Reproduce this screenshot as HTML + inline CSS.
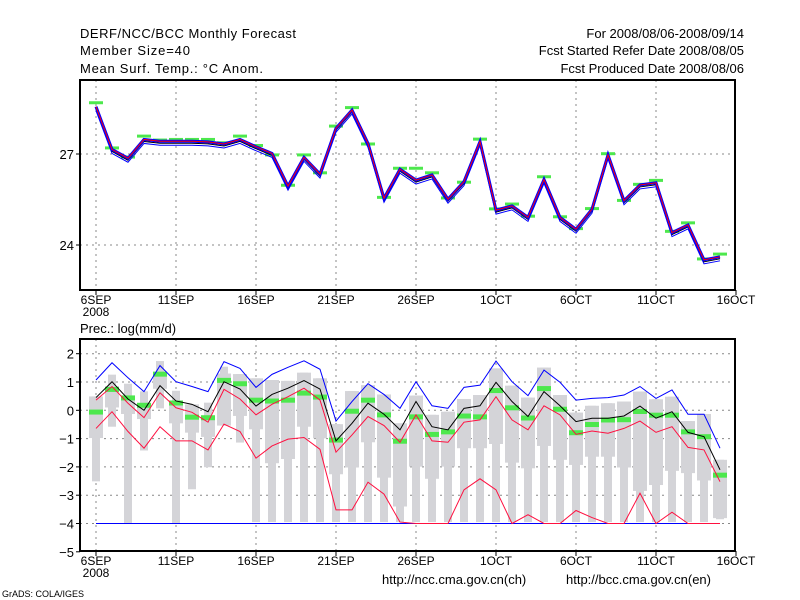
<!DOCTYPE html>
<html><head><meta charset="utf-8"><style>
html,body{margin:0;padding:0;background:#fff;}
svg{display:block;font-family:"Liberation Sans",sans-serif;}
</style></head><body>
<svg id="chart" width="800" height="600" viewBox="0 0 800 600" xmlns="http://www.w3.org/2000/svg">
<rect width="800" height="600" fill="#fff"/>
<g font-size="13" fill="#000">
<text x="80" y="38" textLength="216">DERF/NCC/BCC Monthly Forecast</text>
<text x="80" y="55" textLength="110">Member Size=40</text>
<text x="80" y="73" textLength="183">Mean Surf. Temp.: °C Anom.</text>
<text x="744" y="38" text-anchor="end">For 2008/08/06-2008/09/14</text>
<text x="744" y="55" text-anchor="end">Fcst Started Refer Date 2008/08/05</text>
<text x="744" y="73" text-anchor="end">Fcst Produced Date 2008/08/06</text>
<text x="80" y="333">Prec.: log(mm/d)</text>
<text x="382" y="584">http://ncc.cma.gov.cn(ch)</text>
<text x="566" y="584">http://bcc.cma.gov.cn(en)</text>
<text x="2" y="597" font-size="9">GrADS: COLA/IGES</text>
</g>
<g id="top"></g>
<g id="bot"></g>
</svg>
<script>
const days = [0,1,2,3,4,5,6,7,8,9,10,11,12,13,14,15,16,17,18,19,20,21,22,23,24,25,26,27,28,29,30,31,32,33,34,35,36,37,38,39];
const xTickDays = [0,5,10,15,20,25,30,35,40];
const xTickLabels = ["6SEP","11SEP","16SEP","21SEP","26SEP","1OCT","6OCT","11OCT","16OCT"];
const topYTicks = [27,24];
const tempMean = [28.56,27.15,26.86,27.48,27.42,27.42,27.42,27.40,27.33,27.48,27.24,27.02,25.94,26.89,26.34,27.85,28.45,27.35,25.54,26.50,26.14,26.31,25.51,26.09,27.41,25.15,25.29,24.91,26.16,24.91,24.52,25.18,26.97,25.46,25.98,26.05,24.41,24.66,23.51,23.61];
const tempObs = [28.69,27.2,26.9,27.59,27.46,27.48,27.48,27.48,27.37,27.59,27.28,26.97,25.97,26.97,26.38,27.92,28.53,27.33,25.57,26.53,26.53,26.38,25.55,26.07,27.49,25.19,25.35,24.95,26.25,24.93,24.54,25.2,27.01,25.47,26.0,26.13,24.45,24.73,23.54,23.7];
const botYTicks = [2,1,0,-1,-2,-3,-4,-5];
const precMax = [1.07,1.68,1.15,0.66,1.58,1.01,0.84,0.66,1.72,1.48,0.81,1.27,1.52,1.75,1.45,-0.38,0.31,0.94,0.56,0.07,1.01,0.16,0.07,0.81,0.89,1.74,1.01,0.52,1.42,0.99,0.36,0.42,0.45,0.54,0.84,0.42,0.72,-0.14,-0.14,-1.34];
const precMean = [0.45,1.01,0.40,0,0.87,0.33,0.21,-0.05,1.01,0.75,0.15,0.56,0.78,1.05,0.75,-1.08,-0.46,0.25,-0.14,-0.69,0.31,-0.58,-0.69,0.07,0.16,0.99,0.31,-0.22,0.66,0.16,-0.4,-0.28,-0.28,-0.2,0.15,-0.28,-0.05,-0.78,-0.93,-2.1];
const precUpper = [0.36,0.84,0.25,-0.26,0.62,0.09,-0.07,-0.42,0.74,0.4,-0.16,0.21,0.48,0.78,0.36,-1.48,-0.87,-0.22,-0.54,-1.13,-0.16,-1.08,-1.13,-0.42,-0.34,0.48,-0.34,-0.69,0.16,-0.16,-0.85,-0.73,-0.81,-0.64,-0.38,-0.78,-0.58,-1.31,-1.4,-2.52];
const precLower = [-0.64,-0.05,-0.75,-1.34,-0.58,-1.08,-1.08,-1.4,-0.49,-0.75,-1.69,-1.26,-1.02,-0.96,-1.38,-3.52,-3.52,-2.54,-2.96,-3.95,-4,-4,-4,-2.81,-2.42,-2.81,-4,-3.69,-4,-4,-3.54,-3.79,-4,-4,-2.93,-4,-3.6,-4,-4,-4];
const precObs = [-0.08,0.72,0.42,0.16,1.26,0.24,-0.26,-0.28,1.04,0.92,0.34,0.31,0.34,0.59,0.45,-1.07,-0.05,0.34,-0.18,-1.11,-0.25,-0.87,-0.78,-0.22,-0.25,0.68,0.07,-0.29,0.75,0.02,-0.81,-0.52,-0.36,-0.35,-0.06,-0.19,-0.19,-0.78,-0.95,-2.31];
const boxTop = [0.49,1.26,0.94,0.67,1.74,0.69,0.21,0.27,1.54,1.28,1.13,1.07,1.04,1.33,1.13,-0.49,0.68,0.89,0.56,-0.46,0.52,-0.16,-0.05,0.4,0.54,1.48,0.87,0.45,1.51,0.54,-0.08,0.16,0.25,0.31,0.66,0.39,0.48,-0.38,-0.13,-1.75];
const boxQ75 = [0.49,0.85,0.49,0.21,1.36,0.29,0.21,-0.23,1.3,1.28,1.13,1.07,1.04,1.33,1.13,-0.49,0.68,0.89,0.56,-0.46,0.52,-0.16,-0.05,0.4,0.54,1.48,0.87,0.45,1.51,0.54,-0.08,0.16,0.25,0.31,0.66,0.39,0.48,-0.38,-0.13,-1.75];
const boxQ25 = [-0.98,0.1,-0.13,-0.31,0.76,-0.46,-0.79,-0.94,-0.54,-0.2,-0.67,-1.87,-1.72,-0.58,-0.99,-2.26,-2.02,-1.13,-2.38,-3.4,-1.99,-2.42,-1.99,-1.34,-1.34,-1.19,-1.85,-2.05,-1.26,-1.75,-1.93,-1.64,-1.64,-2.02,-2.85,-2.64,-2.14,-2.22,-2.48,-3.81];
const boxMin = [-2.51,-0.58,-3.98,-1.42,0.07,-3.98,-2.79,-2.01,-0.54,-1.14,-3.95,-3.95,-3.95,-3.95,-3.95,-3.95,-3.95,-3.95,-3.95,-3.95,-3.95,-3.95,-3.95,-3.95,-3.95,-3.95,-3.95,-3.95,-3.95,-3.95,-3.95,-3.95,-3.95,-3.95,-3.95,-3.95,-3.95,-3.95,-3.95,-3.85];

const NS='http://www.w3.org/2000/svg';
function xd(d){return 96+16*d;}
function yt(v){return 154-(v-27)*30.33;}
function yb(v){return 353.7-(v-2)*28.3;}
function mk(tag,attrs,parent){const e=document.createElementNS(NS,tag);for(const k in attrs)e.setAttribute(k,attrs[k]);parent.appendChild(e);return e;}
function pts(arr,yf,off){return arr.map((v,i)=>xd(days[i])+','+(yf(v)+off)).join(' ');}

function frame(g,top,bot,yTicks,yf,pfx){
  xTickDays.slice(0,8).forEach(d=>{
    const l=mk('line',{x1:xd(d),x2:xd(d),y1:top,y2:bot,stroke:'#888','stroke-width':1,'stroke-dasharray':'2,4'},g);
    
    
  });
  yTicks.forEach(v=>{
    const y=yf(v);
    if(y>top+2&&y<bot-2){
      const l=mk('line',{x1:80,x2:735,y1:y,y2:y,stroke:'#888','stroke-width':1,'stroke-dasharray':'2,4'},g);
      
      
    }
    const tk=mk('line',{x1:76,x2:80,y1:y,y2:y,stroke:'#000'},g);
    
    
    const t=mk('text',{x:74,y:y+5,'text-anchor':'end','font-size':13},g);
    t.textContent=(v<0?'\u2212'+(-v):String(v));
    
    
  });
  xTickDays.forEach((d,i)=>{
    const tk=mk('line',{x1:xd(d),x2:xd(d),y1:bot,y2:bot+5,stroke:'#000'},g);
    
    
    const t=mk('text',{x:xd(d),y:bot+14,'text-anchor':'middle','font-size':12},g);
    t.textContent=xTickLabels[i];
    
    
  });
  const yr=mk('text',{x:xd(0),y:bot+26,'text-anchor':'middle','font-size':12},g);
  yr.textContent='2008';
  
  
}

// TOP PANEL
const gt=document.getElementById('top');
frame(gt,80,290,topYTicks,yt,'top');
tempObs.forEach((v,i)=>{
  const r=mk('rect',{x:xd(days[i])-7,y:yt(v)-1.5,width:14,height:3,fill:'#4de84d'},gt);
  
  
});
let l;
l=mk('polyline',{points:pts(tempMean,yt,4),fill:'none',stroke:'#0000ff','stroke-width':1},gt);


l=mk('polyline',{points:pts(tempMean,yt,2),fill:'none',stroke:'#000','stroke-width':1},gt);


l=mk('polyline',{points:pts(tempMean,yt,0),fill:'none',stroke:'#0000ff','stroke-width':3},gt);


l=mk('polyline',{points:pts(tempMean,yt,0),fill:'none',stroke:'#ff0000','stroke-width':1},gt);


const bt=mk('rect',{x:80,y:80,width:655,height:210,fill:'none',stroke:'#000','stroke-width':2},gt);



// BOTTOM PANEL
const gb=document.getElementById('bot');
frame(gb,339,551,botYTicks,yb,'bottom');
days.forEach((d,i)=>{
  const n=mk('rect',{x:xd(d)-4,y:yb(boxTop[i]),width:8,height:Math.max(0,yb(boxMin[i])-yb(boxTop[i])),fill:'#d4d4d8'},gb);
  
  
  const w=mk('rect',{x:xd(d)-7,y:yb(boxQ75[i]),width:14,height:Math.max(0,yb(boxQ25[i])-yb(boxQ75[i])),fill:'#d4d4d8'},gb);
  
  
});
const fl=mk('line',{x1:xd(0),x2:xd(39),y1:yb(-4),y2:yb(-4),stroke:'#0000ff','stroke-width':1},gb);


precObs.forEach((v,i)=>{
  const r=mk('rect',{x:xd(days[i])-7,y:yb(v)-3,width:14,height:5,fill:'#4de84d'},gb);
  
  
});
l=mk('polyline',{points:pts(precLower,yb,0),fill:'none',stroke:'#ff1040','stroke-width':1},gb);


l=mk('polyline',{points:pts(precUpper,yb,0),fill:'none',stroke:'#ff1040','stroke-width':1},gb);


l=mk('polyline',{points:pts(precMean,yb,0),fill:'none',stroke:'#000','stroke-width':1},gb);


l=mk('polyline',{points:pts(precMax,yb,0),fill:'none',stroke:'#0000ff','stroke-width':1},gb);


const bb=mk('rect',{x:80,y:339,width:655,height:212,fill:'none',stroke:'#000','stroke-width':2},gb);


</script>
</body></html>
